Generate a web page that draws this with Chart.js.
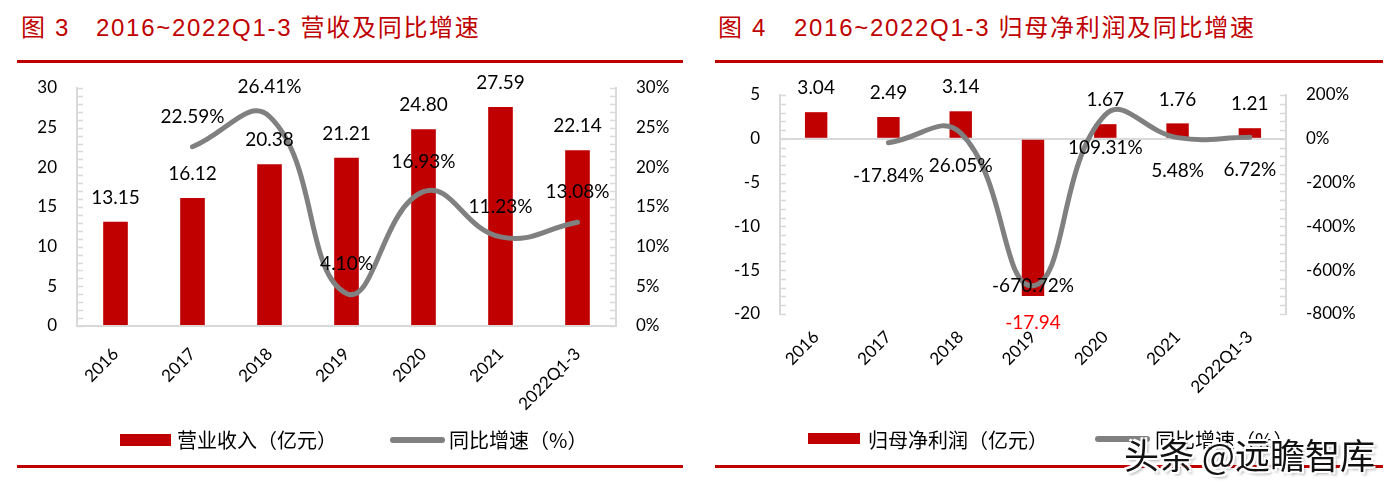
<!DOCTYPE html>
<html lang="zh">
<head>
<meta charset="UTF-8">
<title>营收及归母净利润</title>
<script src="https://cdn.jsdelivr.net/npm/chart.js"></script>
<style>
  body { margin: 0; background: #fff; width: 1396px; height: 489px; position: relative; overflow: hidden; }
  .abs { position: absolute; white-space: nowrap; }
  .title { font-family: "Liberation Sans", "Noto Sans CJK SC", sans-serif; font-size: 24px; color: #C00000; line-height: 24px; top: 16px; letter-spacing: 1.7px; }
  .rule { background: #C00000; height: 3px; }
  .leg { font-family: "Noto Sans CJK SC", sans-serif; font-size: 20px; line-height: 20px; color: #000; top: 430px; }
  .wm { font-family: "Noto Sans CJK SC", sans-serif; font-size: 35px; line-height: 35px; color: #111; left: 1124px; top: 436px;
        text-shadow: 2px 2px 0 #fff, -2px -2px 0 #fff, 2px -2px 0 #fff, -2px 2px 0 #fff, 3px 3px 3px rgba(0,0,0,0.35); }
</style>
</head>
<body>
<div class="abs title" style="left:21px">图 3</div>
<div class="abs title" style="left:96px">2016~2022Q1-3 营收及同比增速</div>
<div class="abs title" style="left:718px">图 4</div>
<div class="abs title" style="left:794px">2016~2022Q1-3 归母净利润及同比增速</div>
<div class="abs rule" style="left:17px;top:60px;width:666px"></div>
<div class="abs rule" style="left:715px;top:60px;width:668px"></div>

<canvas id="c1" class="abs" width="668" height="396" style="left:18px;top:66px"></canvas>
<canvas id="c2" class="abs" width="668" height="396" style="left:714px;top:66px"></canvas>

<div class="abs" style="left:120px;top:434px;width:51px;height:12px;background:#C00000"></div>
<div class="abs leg" style="left:177px">营业收入（亿元）</div>
<div class="abs" style="left:390px;top:437px;width:55px;height:6px;border-radius:3px;background:#808080"></div>
<div class="abs leg" style="left:449px">同比增速（%）</div>

<div class="abs" style="left:808px;top:433px;width:52px;height:11px;background:#C00000"></div>
<div class="abs leg" style="left:868px">归母净利润（亿元）</div>
<div class="abs" style="left:1095px;top:436px;width:55px;height:6px;border-radius:3px;background:#808080"></div>
<div class="abs leg" style="left:1155px">同比增速（%）</div>

<div class="abs rule" style="left:17px;top:465px;width:666px"></div>
<div class="abs rule" style="left:715px;top:465px;width:668px"></div>
<div class="abs wm">头条 @远瞻智库</div>

<script>
// 数据
const categories = ['2016', '2017', '2018', '2019', '2020', '2021', '2022Q1-3'];
const revenue = [13.15, 16.12, 20.38, 21.21, 24.80, 27.59, 22.14];       // 营业收入（亿元）
const revenueYoY = [null, 22.59, 26.41, 4.10, 16.93, 11.23, 13.08];       // 同比增速（%）
const netProfit = [3.04, 2.49, 3.14, -17.94, 1.67, 1.76, 1.21];           // 归母净利润（亿元）
const netProfitYoY = [null, -17.84, 26.05, -670.72, 109.31, 5.48, 6.72];  // 同比增速（%）

const RED = '#C00000';
const GREY = '#808080';
const AXIS = '#D9D9D9';
const CLEAR = 'rgba(0,0,0,0)';
const NUM_FONT = 'Lato, "Noto Sans", sans-serif';

// 轴上的小刻度（向内）
const minorTicks = {
  id: 'minorTicks',
  beforeDatasetsDraw(chart, args, opts) {
    const ctx = chart.ctx, y = chart.scales.y, a = chart.chartArea;
    ctx.save();
    ctx.strokeStyle = AXIS;
    ctx.lineWidth = 1.5;
    for (let v = y.min; v <= y.max + 1e-9; v += opts.step) {
      const py = Math.round(y.getPixelForValue(v)) + 0.5;
      ctx.beginPath();
      ctx.moveTo(a.left, py); ctx.lineTo(a.left + 6, py);
      ctx.moveTo(a.right, py); ctx.lineTo(a.right - 6, py);
      ctx.stroke();
    }
    ctx.restore();
  }
};

// 数据标签
const valueLabels = {
  id: 'valueLabels',
  afterDatasetsDraw(chart, args, opts) {
    const ctx = chart.ctx;
    ctx.save();
    ctx.font = '19px ' + NUM_FONT;
    ctx.textAlign = 'center';
    ctx.textBaseline = 'middle';
    chart.data.datasets.forEach((ds, i) => {
      const meta = chart.getDatasetMeta(i);
      meta.data.forEach((el, j) => {
        const v = ds.data[j];
        if (v == null) return;
        let y, text, color = '#000';
        if (ds.type === 'bar') {
          text = v.toFixed(2);
          if (v >= 0) { y = el.y - 24; } else { y = el.y + 27; color = '#FF0000'; }
        } else {
          text = v.toFixed(2) + '%';
          const pos = opts.linePos[j];
          y = pos === 'above' ? el.y - 30 : pos === 'below' ? el.y + 33 : el.y;
        }
        ctx.fillStyle = color;
        ctx.fillText(text, el.x, y);
      });
    });
    ctx.restore();
  }
};

function makeChart(id, cfg) {
  return new Chart(document.getElementById(id), {
    data: {
      labels: categories,
      datasets: [
        { type: 'line', data: cfg.line, yAxisID: 'y1', order: 0,
          borderColor: GREY, borderWidth: 5, borderCapStyle: 'round', tension: 0.45,
          pointRadius: 0, spanGaps: false, clip: false },
        { type: 'bar', data: cfg.bars, yAxisID: 'y', order: 1,
          backgroundColor: RED, barPercentage: cfg.barPct, categoryPercentage: 1 }
      ]
    },
    options: {
      responsive: false,
      animation: false,
      events: [],
      layout: { padding: { top: cfg.top, left: 0, right: 0, bottom: 0 } },
      plugins: {
        legend: { display: false },
        tooltip: { enabled: false },
        minorTicks: { step: 1 },
        valueLabels: { linePos: cfg.linePos }
      },
      scales: {
        x: {
          grid: { display: false, drawTicks: false },
          border: { display: cfg.xBorder, color: AXIS, width: 2 },
          ticks: { color: '#000', font: { family: NUM_FONT, size: 17 }, minRotation: 45, maxRotation: 45,
                   autoSkip: false, padding: cfg.xPad },
          afterFit(s) { s.height = cfg.xHeight; }
        },
        y: {
          position: 'left', min: cfg.yMin, max: cfg.yMax,
          ticks: { stepSize: cfg.yStep, color: '#000', font: { family: NUM_FONT, size: 17 }, padding: 0 },
          grid: { drawTicks: true, tickLength: 20, tickColor: CLEAR, lineWidth: 2,
                  color: c => (cfg.zeroLine && c.tick && c.tick.value === 0) ? AXIS : CLEAR },
          border: { display: true, color: AXIS, width: 2 },
          afterFit(s) { s.width = cfg.leftW; }
        },
        y1: {
          position: 'right', min: cfg.y1Min, max: cfg.y1Max,
          ticks: { stepSize: cfg.y1Step, color: '#000', font: { family: NUM_FONT, size: 17 }, padding: 0,
                   callback: v => v + '%' },
          grid: { drawOnChartArea: false, drawTicks: true, tickLength: 20, tickColor: CLEAR, color: CLEAR },
          border: { display: true, color: AXIS, width: 2 },
          afterFit(s) { s.width = cfg.rightW; }
        }
      }
    },
    plugins: [minorTicks, valueLabels]
  });
}

makeChart('c1', {
  bars: revenue, line: revenueYoY, barPct: 0.32,
  yMin: 0, yMax: 30, yStep: 5, y1Min: 0, y1Max: 30, y1Step: 5,
  top: 22, leftW: 59, rightW: 70, xHeight: 136, xPad: 18, xBorder: true, zeroLine: false,
  linePos: ['above', 'above', 'above', 'above', 'above', 'above', 'above']
});

makeChart('c2', {
  bars: netProfit, line: netProfitYoY, barPct: 0.31,
  yMin: -20, yMax: 5, yStep: 5, y1Min: -800, y1Max: 200, y1Step: 200,
  top: 29, leftW: 66, rightW: 96, xHeight: 148, xPad: 13, xBorder: false, zeroLine: true,
  linePos: ['below', 'below', 'below', 'center', 'below', 'below', 'below']
});
</script>
</body>
</html>
